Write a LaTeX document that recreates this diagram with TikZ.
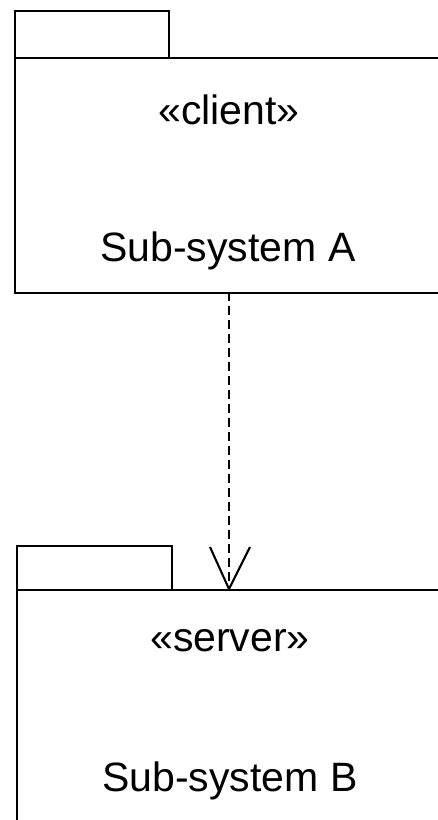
\documentclass[tikz,border=0pt]{standalone}
\usepackage{fontspec}
\setmainfont{Liberation Sans}
\begin{document}
\begin{tikzpicture}[x=1pt,y=-1pt,line width=2.1pt,
	pkg/.style={draw,rectangle,anchor=north west,inner sep=0pt},
	lbl/.style={font=\fontsize{41}{46}\selectfont,inner sep=0pt},
	dep/.style={line width=1.8pt,dash pattern=on 9pt off 5pt}]

	\useasboundingbox (0,0) rectangle (438,820);
	\clip (0,0) rectangle (438,820);

	\node[pkg,minimum width=154pt,minimum height=47pt] (tabA) at (14,10) {};
	\node[pkg,minimum width=470pt,minimum height=235pt] (bodyA) at (14,57) {};
	\node[lbl] (stereoA) at (229,110) {«client»};
	\node[lbl] (nameA) at (228,251) {Sub-system A};

	\node[pkg,minimum width=155pt,minimum height=44pt] (tabB) at (16,545) {};
	\node[pkg,minimum width=470pt,minimum height=260pt] (bodyB) at (16,589) {};
	\node[lbl] (stereoB) at (230,641) {«server»};
	\node[lbl] (nameB) at (230,781) {Sub-system B};

	\coordinate (srcA) at (229,292);
	\coordinate (dstB) at (229,589);
	\draw[dep] (srcA) -- (dstB);
	\draw (dstB) -- ++(-19,-42) (dstB) -- ++(21,-42);

\end{tikzpicture}
\end{document}
